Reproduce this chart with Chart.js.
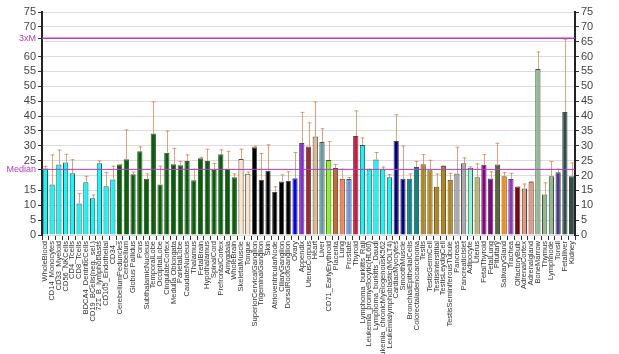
<!DOCTYPE html>
<html>
<head>
<meta charset="utf-8">
<script src="https://cdn.jsdelivr.net/npm/chart.js@4.4.1/dist/chart.umd.min.js"></script>
<style>
  html, body { margin: 0; padding: 0; background: #fff; }
  #wrap { width: 619px; height: 354px; }
</style>
</head>
<body>
<div id="wrap"><canvas id="chart" width="619" height="354"></canvas></div>
<script>
const tissues = [
  'WholeBlood', 'CD14_Monocytes', 'CD33_Myeloid', 'CD56_NKCells', 'CD4_Tcells', 'CD8_Tcells',
  'BDCA4_DentriticCells', 'CD19_BCells(neg._sel.)', '721_B_lymphoblasts', 'CD105_Endothelial', 'CD34_',
  'CerebellumPeduncles', 'Cerebellum', 'Globus Pallidus', 'Pons', 'SubthalamicNucleus', 'TemporalLobe',
  'OccipitalLobe', 'CingulateCortex', 'Medulla Oblongata', 'ParietalLobe', 'CaudateNucleus', 'Thalamus',
  'FetalBrain', 'Hypothalamus', 'SpinalCord', 'PrefrontalCortex', 'Amygdala', 'WholeBrain',
  'SkeletalMuscle', 'Tongue', 'SuperiorCervicalGanglion', 'TrigeminalGanglion', 'Skin',
  'AtrioventricularNode', 'CiliaryGanglion', 'DorsalRootGanglion', 'Ovary', 'Appendix', 'UterusCorpus',
  'Heart', 'Liver', 'CD71_EarlyErythroid', 'Placenta', 'Lung', 'Prostate', 'Thyroid',
  'Lymphoma_burkitts_Raji', 'Leukemia_promyelocytic(HL60)', 'Lymphoma_burkitts_Daudi',
  'Leukemia_chronicMyelogenousK562', 'Leukemialymphoblastic(MOLT4)', 'CardiacMyocytes', 'SmoothMuscle',
  'BronchialEpithelialCells', 'Colorectaladenocarcinoma', 'Testis', 'TestisGermCell', 'TestisInterstitial',
  'TestisLeydigCell', 'TestisSeminiferousTubule', 'Pancreas', 'PancreaticIslet', 'Adipocyte', 'Uterus',
  'FetalThyroid', 'FetalLung', 'Pituitary', 'SalivaryGland', 'Trachea', 'OlfactoryBulb', 'AdrenalCortex',
  'Adrenalgland', 'BoneMarrow', 'Thymus', 'Lymphnode', 'Tonsil', 'Fetalliver', 'Kidney'
];

const expression = [
  22.4, 17.0, 23.7, 24.4, 20.8, 10.6, 17.7, 12.4, 24.1, 16.4, 18.7,
  23.7, 25.5, 20.4, 28.2, 18.9, 34.1, 17.0, 27.7, 23.8, 23.5, 24.9, 18.4, 25.8, 24.9, 21.9, 27.2, 22.3, 19.4,
  25.6, 20.6, 29.5, 18.6, 21.6, 14.5, 18.0, 18.2, 19.1, 30.9, 29.8, 33.1, 31.3, 25.2, 22.5, 18.9, 18.8, 33.3,
  30.3, 22.0, 25.4, 22.0, 19.4, 31.6, 18.9, 18.9, 22.9, 23.8, 21.8, 16.2, 23.2, 18.6, 20.7, 24.1, 22.6, 19.4,
  23.6, 19.0, 23.7, 19.8, 18.8, 16.2, 15.6, 17.9, 55.8, 13.6, 19.8, 21.1, 41.4, 19.8
];

// top of each error whisker
const errorTop = [
  23.3, 27.1, 28.7, 27.3, 25.5, 14.1, 19.9, 13.6, 25.1, 21.2, 23.3,
  23.9, 35.5, 21.3, 29.8, 20.7, 44.9, 23.3, 35.1, 29.3, 24.9, 27.1, 22.3, 26.3, 29.0, 24.2, 28.8, 28.3, 20.7,
  29.0, 21.3, 30.0, 27.6, 30.5, 16.4, 20.4, 21.4, 27.9, 41.4, 37.9, 44.9, 35.9, 31.6, 23.9, 22.3, 19.5, 41.9,
  32.8, 22.3, 27.9, 23.0, 20.5, 40.6, 30.1, 20.7, 24.9, 27.2, 25.3, 20.7, 23.4, 20.9, 29.7, 26.1, 23.1, 24.1,
  27.2, 21.4, 31.0, 21.2, 20.9, 16.4, 17.3, 18.1, 61.7, 17.7, 24.9, 22.3, 66.0, 24.4
];

const median = 22.07;
const threeXM = 66.2;
const yTicks = [0, 5, 10, 15, 25, 30, 35, 40, 45, 50, 55, 60, 70, 75];
const y2Ticks = [0, 5, 10, 15, 20, 25, 30, 35, 40, 45, 50, 55, 60, 65, 70, 75];

// colour groups: [colour, how many bars]
const colourGroups = [
  ['#00ffff', 11], ['#006400', 18], ['#ffe4c4', 2], ['#000000', 6], ['#0000ff', 1], ['#8a2be2', 1],
  ['#a52a2a', 1], ['#deb887', 1], ['#5f9ea0', 1], ['#7fff00', 1], ['#d2691e', 1], ['#ff7f50', 1],
  ['#6495ed', 1], ['#dc143c', 1], ['#00ffff', 5], ['#00008b', 2], ['#008b8b', 2], ['#b8860b', 5],
  ['#a9a9a9', 2], ['#7fffd4', 1], ['#bdb76b', 1], ['#8b008b', 2], ['#556b2f', 1], ['#ff8c00', 1],
  ['#9932cc', 1], ['#8b0000', 1], ['#e9967a', 2], ['#8fbc8f', 3], ['#483d8b', 1], ['#2f4f4f', 2]
];
const barColours = [];
colourGroups.forEach(([c, n]) => { for (let i = 0; i < n; i++) barColours.push(c); });

const purple = '#b43cc8';
const isMark = (v) => v === median || v === threeXM;

const errorBars = {
  id: 'errorBars',
  afterDatasetsDraw(chart) {
    const ctx = chart.ctx;
    const y = chart.scales.y;
    const meta = chart.getDatasetMeta(0);
    ctx.save();
    ctx.strokeStyle = 'rgba(214, 130, 80, 0.75)';
    ctx.lineWidth = 1;
    meta.data.forEach((bar, i) => {
      const top = y.getPixelForValue(errorTop[i]);
      const x = Math.round(bar.x) + 0.5;
      ctx.beginPath();
      ctx.moveTo(x, bar.y);
      ctx.lineTo(x, top);
      ctx.moveTo(x - 2, top + 0.5);
      ctx.lineTo(x + 2, top + 0.5);
      ctx.stroke();
    });
    // median and 3xM lines
    const area = chart.chartArea;
    [[median, 1], [threeXM, 1.5]].forEach(([v, w]) => {
      const py = y.getPixelForValue(v);
      ctx.strokeStyle = purple;
      ctx.lineWidth = w;
      ctx.beginPath();
      ctx.moveTo(area.left, py);
      ctx.lineTo(area.right, py);
      ctx.stroke();
    });
    ctx.restore();
  }
};

Chart.defaults.font.family = 'Arial, "Liberation Sans", sans-serif';
Chart.defaults.animation = false;

new Chart(document.getElementById('chart'), {
  type: 'bar',
  data: {
    labels: tissues,
    datasets: [{
      data: expression,
      backgroundColor: barColours,
      borderColor: '#4a4a4a',
      borderWidth: 1,
      barPercentage: 0.78,
      categoryPercentage: 1.0
    }]
  },
  options: {
    responsive: false,
    layout: { padding: { top: 12, left: 0, right: 0, bottom: 0 } },
    plugins: { legend: { display: false }, tooltip: { enabled: false } },
    scales: {
      x: {
        grid: { display: true, drawOnChartArea: false, tickLength: 5, tickColor: '#333' },
        border: { display: false },
        ticks: {
          autoSkip: false, minRotation: 90, maxRotation: 90, padding: 1,
          color: '#333', font: { size: 7.5 }
        },
        afterFit: (axis) => { axis.height = 119; }
      },
      y: {
        position: 'left',
        min: 0, max: 75,
        afterBuildTicks: (axis) => {
          axis.ticks = yTicks.concat([median, threeXM]).sort((a, b) => a - b).map(v => ({ value: v }));
        },
        grid: { drawOnChartArea: false, tickLength: 4, tickColor: '#333' },
        border: { color: '#222', width: 2 },
        ticks: {
          autoSkip: false,
          padding: 2,
          font: (c) => ({ size: (c.tick && isMark(c.tick.value)) ? 9 : 11 }),
          color: (c) => (c.tick && isMark(c.tick.value)) ? purple : '#444',
          callback: (v) => v === median ? 'Median' : (v === threeXM ? '3xM' : v)
        },
        afterFit: (axis) => { axis.width = 42; }
      },
      y2: {
        position: 'right',
        min: 0, max: 75,
        afterBuildTicks: (axis) => {
          axis.ticks = y2Ticks.map(v => ({ value: v }));
        },
        grid: { color: '#dcdcdc', tickLength: 4, tickColor: '#333' },
        border: { color: '#222', width: 2 },
        ticks: { autoSkip: false, padding: 2, font: { size: 11 }, color: '#444' },
        afterFit: (axis) => { axis.width = 44; }
      }
    }
  },
  plugins: [errorBars]
});
</script>
</body>
</html>
